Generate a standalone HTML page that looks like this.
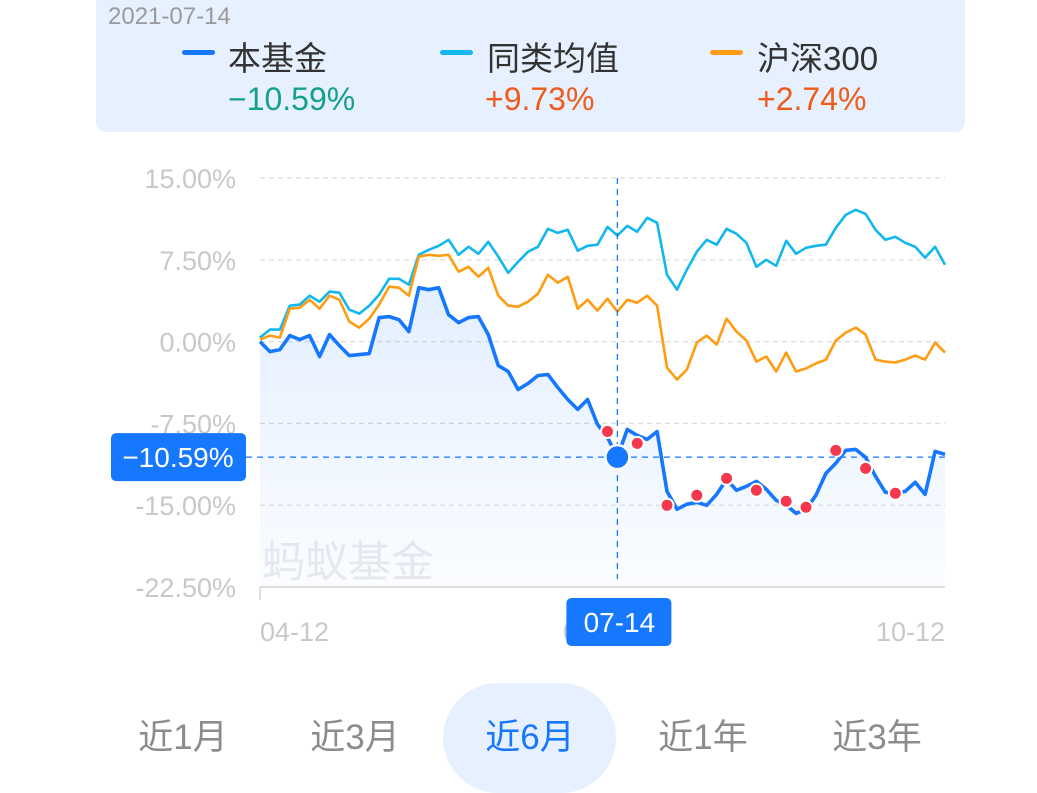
<!DOCTYPE html>
<html><head><meta charset="utf-8">
<style>
body{margin:0;width:1037px;height:771px;overflow:hidden;background:#fff;font-family:"Liberation Sans","Noto Sans CJK SC",sans-serif;position:relative}
.hdr{position:absolute;left:96px;top:-12px;width:869px;height:144px;background:#e6f0fe;border-radius:10px}
.abs{position:absolute;white-space:nowrap}
.tab{position:absolute;top:713px;font-size:35px;color:#8c8c8c;width:172px;text-align:center;line-height:50px}
</style></head><body>
<div class="hdr"></div>
<div class="abs" style="left:108px;top:3px;font-size:24px;color:#9a9a9a">2021-07-14</div>
<div class="abs" style="left:182px;top:50px;width:33px;height:5px;border-radius:3px;background:#1677ff"></div>
<div class="abs" style="left:228px;top:32px;font-size:33px;color:#333">本基金</div>
<div class="abs" style="left:228px;top:81px;font-size:32px;color:#14a08a">−10.59%</div>
<div class="abs" style="left:440px;top:50px;width:33px;height:5px;border-radius:3px;background:#12b7f0"></div>
<div class="abs" style="left:487px;top:32px;font-size:33px;color:#333">同类均值</div>
<div class="abs" style="left:485px;top:81px;font-size:32px;color:#ef5a1d">+9.73%</div>
<div class="abs" style="left:710px;top:50px;width:33px;height:5px;border-radius:3px;background:#ff9c12"></div>
<div class="abs" style="left:757px;top:32px;font-size:33px;color:#333">沪深300</div>
<div class="abs" style="left:757px;top:81px;font-size:32px;color:#ef5a1d">+2.74%</div>

<svg id="chart" width="1037" height="771" style="position:absolute;left:0;top:0">
<defs><linearGradient id="fill" x1="0" y1="0" x2="0" y2="1"><stop offset="0" stop-color="#1677ff" stop-opacity="0.12"/><stop offset="1" stop-color="#1677ff" stop-opacity="0.02"/></linearGradient></defs>
</svg>

<div class="abs" style="left:443px;top:683px;width:173px;height:110px;border-radius:55px;background:#e6f0fe"></div>
<div class="tab" style="left:97px">近1月</div>
<div class="tab" style="left:269px">近3月</div>
<div class="tab" style="left:444px;color:#1677ff">近6月</div>
<div class="tab" style="left:617px">近1年</div>
<div class="tab" style="left:791px">近3年</div>

<script>
const yTicks=[15,7.5,0,-7.5,-15,-22.5];
const yTickLabels=["15.00%","7.50%","0.00%","-7.50%","-15.00%","-22.50%"];
const xTickLabels=["04-12","07-12","10-12"];
const fund=[0,-0.92,-0.73,0.55,0.18,0.55,-1.37,0.64,-0.37,-1.28,-1.19,-1.10,2.20,2.29,2.01,0.92,4.94,4.76,4.94,2.47,1.74,2.20,2.29,0.64,-2.20,-2.74,-4.39,-3.84,-3.11,-3.02,-4.21,-5.31,-6.22,-5.31,-7.59,-8.78,-10.59,-8.05,-8.60,-8.97,-8.24,-13.73,-15.37,-14.91,-14.73,-15.01,-14.00,-12.63,-13.63,-13.27,-12.81,-13.54,-14.55,-15.01,-15.74,-15.37,-14.09,-12.08,-11.16,-9.97,-9.88,-10.61,-12.35,-13.82,-13.91,-13.73,-12.90,-14.00,-10.07,-10.34];
const peer=[0.37,1.10,1.10,3.29,3.39,4.21,3.66,4.58,4.48,2.93,2.56,3.29,4.30,5.76,5.76,5.22,7.96,8.42,8.78,9.33,7.96,8.69,8.05,9.15,7.78,6.31,7.32,8.24,8.69,10.34,9.97,10.25,8.33,8.78,8.88,10.52,9.73,10.61,10.07,11.35,10.89,6.13,4.76,6.59,8.24,9.33,8.88,10.34,9.88,9.06,6.86,7.50,6.95,9.24,8.05,8.60,8.78,8.88,10.43,11.62,12.08,11.71,10.25,9.33,9.61,9.06,8.69,7.69,8.69,7.05];
const index300=[0.18,0.55,0.37,3.02,3.11,3.84,3.02,4.21,3.84,1.83,1.28,2.10,3.39,5.03,4.94,4.21,7.78,7.96,7.87,7.96,6.41,6.86,5.95,6.77,4.21,3.29,3.20,3.66,4.39,6.13,5.40,5.95,3.02,3.84,2.84,3.93,2.74,3.84,3.57,4.21,3.29,-2.38,-3.48,-2.56,-0.09,0.55,-0.27,2.10,0.92,0.09,-1.83,-1.37,-2.74,-1.01,-2.74,-2.47,-2.01,-1.65,0.09,0.82,1.28,0.64,-1.65,-1.83,-1.92,-1.65,-1.28,-1.65,-0.09,-1.01];
const markerIdx=[35,38,41,44,47,50,53,55,58,61,64];
const markerVal=[-8.24,-9.33,-15.01,-14.09,-12.54,-13.63,-14.64,-15.19,-9.97,-11.62,-13.91];
const selIdx=36;

const NS="http://www.w3.org/2000/svg";
const svg=document.getElementById('chart');
const X0=260,X1=945,YTOP=178,YBOT=587,VMAX=15,VMIN=-22.5;
const N=fund.length;
function xs(i){return X0+i*(X1-X0)/(N-1);}
function ys(v){return YTOP+(VMAX-v)*(YBOT-YTOP)/(VMAX-VMIN);}
function mk(tag,attrs){const e=document.createElementNS(NS,tag);for(const k in attrs)e.setAttribute(k,attrs[k]);svg.appendChild(e);return e;}

let wm=mk('text',{x:262,y:577,'font-size':43,fill:'#ebebee','font-family':'"Liberation Sans","Noto Sans CJK SC",sans-serif'});
wm.textContent='蚂蚁基金';



yTicks.forEach((v,k)=>{
  const y=ys(v);
  if(k<yTicks.length-1){
    const g=mk('line',{x1:X0,x2:X1,y1:y,y2:y,stroke:'#dcdcdc','stroke-width':1.2,'stroke-dasharray':'5,4'});
    
    
  }
  const t=mk('text',{x:236,y:y+10,'text-anchor':'end','font-size':27,fill:'#c8c8c8','font-family':'"Liberation Sans",sans-serif'});
  t.textContent=yTickLabels[k];
  
  
});
let ax=mk('line',{x1:X0,x2:X1,y1:YBOT,y2:YBOT,stroke:'#d6d6d6','stroke-width':1.5});


let tk=mk('line',{x1:X0,x2:X0,y1:YBOT,y2:YBOT+13,stroke:'#d6d6d6','stroke-width':1.5});


const xlPos=[0,Math.round((N-1)/2)-1,N-1],xlAnchor=['start','middle','end'];
xTickLabels.forEach((s,k)=>{
  const t=mk('text',{x:xs(xlPos[k]),y:641,'text-anchor':xlAnchor[k],'font-size':27,fill:'#c8c8c8','font-family':'"Liberation Sans",sans-serif'});
  t.textContent=s;
  
  
});

function pathD(arr){return arr.map((v,i)=>(i?'L':'M')+xs(i).toFixed(1)+','+ys(v).toFixed(1)).join(' ');}
let area=mk('path',{d:pathD(fund)+' L'+xs(N-1)+','+YBOT+' L'+X0+','+YBOT+' Z',fill:'url(#fill)'});


let l1=mk('path',{d:pathD(peer),fill:'none',stroke:'#12b7f0','stroke-width':2.6,'stroke-linejoin':'round'});


let l2=mk('path',{d:pathD(index300),fill:'none',stroke:'#ff9c12','stroke-width':2.6,'stroke-linejoin':'round'});


let l3=mk('path',{d:pathD(fund),fill:'none',stroke:'#1677ff','stroke-width':3.6,'stroke-linejoin':'round'});



markerIdx.forEach((idx,k)=>{
  const c=mk('circle',{cx:xs(idx),cy:ys(markerVal[k]),r:6.5,fill:'#f5364d',stroke:'#fff','stroke-width':2});
  
  
});

const cx=xs(selIdx),cy=ys(fund[selIdx]);
let vl=mk('line',{x1:cx,x2:cx,y1:YTOP,y2:YBOT-8,stroke:'#1677ff','stroke-width':1.3,'stroke-dasharray':'6,5'});


let hl=mk('line',{x1:246,x2:X1,y1:cy,y2:cy,stroke:'#1677ff','stroke-width':1.3,'stroke-dasharray':'6,5'});


let dot=mk('circle',{cx:cx,cy:cy,r:12,fill:'#1677ff',stroke:'#fff','stroke-width':2.5});


let yb=mk('rect',{x:111,y:cy-24,width:135,height:48,rx:5,fill:'#1677ff'});


let yt=mk('text',{x:178,y:cy+10,'text-anchor':'middle','font-size':28,fill:'#fff','font-family':'"Liberation Sans",sans-serif'});
yt.textContent='−'+Math.abs(fund[selIdx]).toFixed(2)+'%';


let xb=mk('rect',{x:cx-51,y:598,width:105,height:48,rx:5,fill:'#1677ff'});


let xt=mk('text',{x:cx+2,y:632,'text-anchor':'middle','font-size':28,fill:'#fff','font-family':'"Liberation Sans",sans-serif'});
xt.textContent='07-14';


</script>
</body></html>
